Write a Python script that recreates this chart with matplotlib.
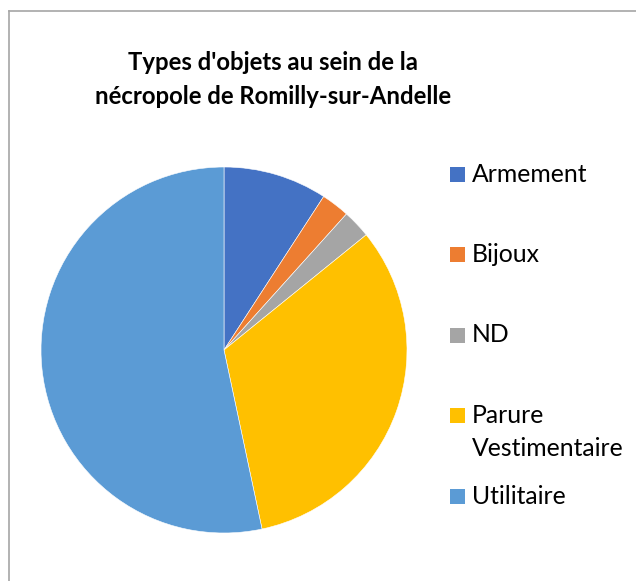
import matplotlib
matplotlib.use('Agg')
from matplotlib import pyplot as plt
from matplotlib.patches import Rectangle
from matplotlib.lines import Line2D

# object counts
categories = ['Armement', 'Bijoux', 'ND', 'Parure Vestimentaire', 'Utilitaire']
counts = [11, 3, 3, 39, 64]
legend_labels = ['Armement', 'Bijoux', 'ND', 'Parure\nVestimentaire', 'Utilitaire']
colors = ['#4472C4', '#ED7D31', '#A5A5A5', '#FFC000', '#5B9BD5']
title_lines = ["Types d'objets au sein de la", "nécropole de Romilly-sur-Andelle"]

W, H = 636, 581
fig = plt.figure(figsize=(W / 100, H / 100), dpi=100)
plt.rcParams['font.family'] = ['Lato', 'DejaVu Sans']


def fx(px):
    return px / W


def fy(py):
    return 1 - py / H


# chart frame (only top and left edges are visible in the crop)
fig.add_artist(Line2D([fx(9), fx(9)], [fy(11), 0], color='#A6A6A6', lw=1.2))
fig.add_artist(Line2D([fx(9), 1], [fy(11), fy(11)], color='#A6A6A6', lw=1.2))

for j, line in enumerate(title_lines):
    fig.text(fx(273), fy(63 + 34 * j), line, ha='center', va='center',
             fontsize=17.2, fontweight='bold', color='black')

# pie
cx, cy, r = 224, 350, 183
ax = fig.add_axes([fx(cx - r), fy(cy + r), 2 * r / W, 2 * r / H])
ax.pie(counts, colors=colors, startangle=90, counterclock=False, radius=1,
       wedgeprops=dict(edgecolor='white', linewidth=0.4))
ax.set_xlim(-1, 1)
ax.set_ylim(-1, 1)
ax.set_aspect('equal')
ax.axis('off')

# legend drawn by hand, first line of each entry on a regular step
y0, step = 174, 80.5
sq = 15
for i, (lab, col) in enumerate(zip(legend_labels, colors)):
    yc = y0 + i * step
    fig.add_artist(Rectangle((fx(450), fy(yc + sq / 2)), sq / W, sq / H,
                             transform=fig.transFigure, color=col, lw=0))
    for j, part in enumerate(lab.split('\n')):
        fig.text(fx(472), fy(yc + 33 * j), part, ha='left', va='center',
                 fontsize=17.8, color='black')

fig.savefig('out.png', dpi=100)
